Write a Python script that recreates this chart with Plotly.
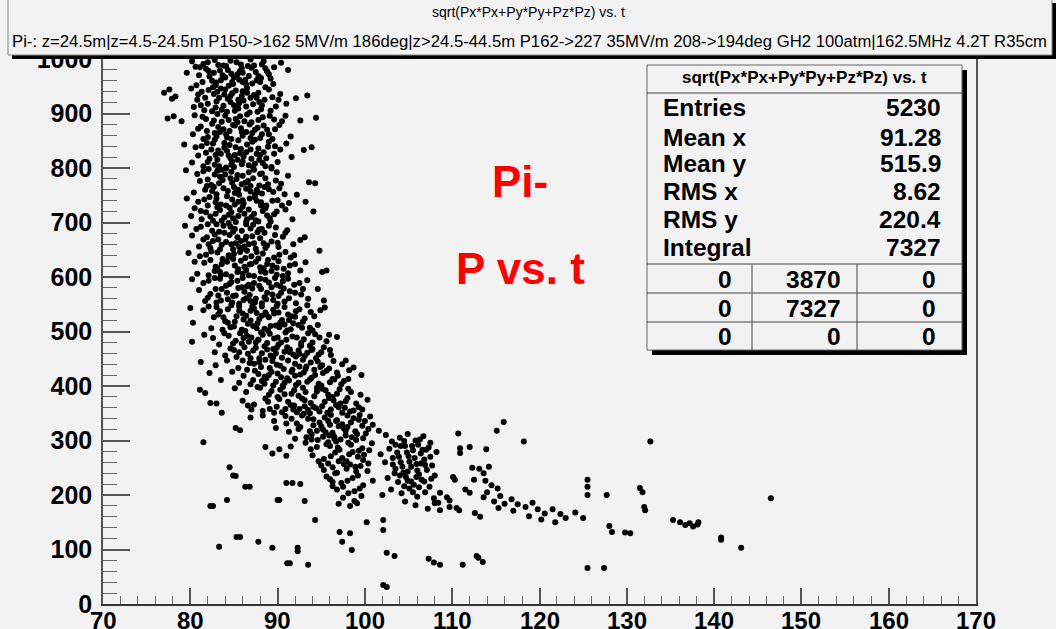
import plotly.graph_objects as go

# ---------------- data (t in ns, P in MeV/c) ----------------
band_950 = [(80.2,996),(81.5,991),(82.8,998),(84.1,987),(85.3,994),(86.9,999),(88.2,990),(89.6,985),
            (83.4,979),(85.9,983),(87.5,976),(81.0,970),(82.2,968),(84.7,973),(86.3,962),(88.8,977),
            (90.4,993),(83.0,957),(85.0,966),(87.1,955),(80.7,952),(82.5,960),(84.4,951),(86.0,975),
            (88.0,958),(91.2,980),(83.8,988),(85.6,962),(87.8,969),(81.8,982),(89.2,964),(84.9,954),
            (79.6,975),(86.6,987),
            (81.1,985),(82.0,994),(83.2,989),(84.6,997),(85.8,990),(87.0,984),(88.4,996),(89.0,972),
            (82.7,975),(84.0,966),(85.4,972),(86.7,969),(88.1,965),(81.4,958),(83.5,961),(84.8,958),
            (86.4,953),(87.6,961),(89.5,954),(82.9,952),(85.7,978),(87.3,988),(83.7,970),(86.0,958),
            (80.6,986),(84.3,980),(88.6,983),(82.1,978)]
band_900 = [(77.0,938),(77.6,944),(78.3,931),(77.9,927),(80.1,946),(81.3,940),(82.6,948),(83.9,935),
            (85.2,942),(86.5,947),(87.8,938),(89.0,944),(90.3,936),(92.1,928),(93.4,933),(80.8,925),
            (82.0,918),(83.3,929),(84.6,921),(85.9,932),(87.2,917),(88.5,925),(89.8,913),(81.6,906),
            (82.9,911),(84.2,903),(85.5,909),(86.8,902),(88.1,908),(84.0,944),(86.1,924),(83.1,940),
            (87.6,929),(80.4,912),(91.0,918),(85.0,915),
            (80.9,935),(82.1,943),(83.5,946),(84.8,937),(86.0,941),(87.3,934),(88.6,948),(81.7,929),
            (83.0,922),(84.3,927),(85.6,919),(86.9,929),(88.2,915),(89.4,930),(81.2,915),(82.5,904),
            (83.8,914),(85.1,905),(86.4,913),(87.7,903),(89.2,905),(84.6,932),(86.5,938),(82.7,936),
            (85.5,925),(87.9,921),(83.6,907),(90.1,925)]
band_850 = [(77.4,891),(78.1,895),(79.0,886),(94.4,892),(92.6,887),(80.5,897),(81.8,890),(83.1,899),
            (84.4,888),(85.7,895),(87.0,884),(88.3,893),(89.6,889),(90.9,896),(81.2,876),(82.5,881),
            (83.8,871),(85.1,878),(86.4,866),(87.7,874),(89.0,862),(80.3,862),(82.0,857),(83.4,866),
            (84.7,853),(86.0,859),(87.4,852),(88.8,870),(90.2,879),(85.4,884),(84.1,862),(86.8,880),
            (82.8,852),(91.5,858),(80.9,872),(88.0,855),
            (81.4,894),(82.7,887),(84.0,896),(85.2,890),(86.5,898),(87.8,888),(89.1,896),(81.9,868),
            (83.2,875),(84.5,868),(85.8,873),(87.1,864),(88.4,878),(89.7,871),(81.5,853),(82.8,864),
            (84.2,856),(85.5,851),(86.9,855),(88.2,862),(89.4,853),(83.6,885),(86.2,886),(84.9,879),
            (87.4,870),(83.0,858),(85.9,866),(90.5,886)]
band_800 = [(79.3,843),(80.6,838),(81.9,846),(83.2,832),(84.5,842),(85.8,835),(87.1,848),(88.4,829),
            (89.7,840),(91.0,845),(93.0,833),(93.9,838),(80.9,823),(82.2,817),(83.5,826),(84.8,812),
            (86.1,821),(87.4,808),(88.7,818),(90.0,811),(81.5,803),(82.8,806),(84.1,801),(85.4,815),
            (86.7,805),(88.0,824),(89.3,802),(83.9,837),(86.4,829),(82.4,834),(85.1,824),(87.9,815),
            (80.2,810),(91.6,820),(84.7,806),
            (81.3,840),(82.6,845),(83.9,846),(85.2,838),(86.5,843),(87.8,836),(89.0,848),(81.8,828),
            (83.1,815),(84.4,823),(85.7,827),(87.0,817),(88.3,809),(89.6,826),(82.0,811),(83.3,803),
            (84.6,818),(85.9,807),(87.2,801),(88.6,803),(90.3,834),(84.2,831),(86.9,834),(86.0,812),
            (88.9,839),(82.9,824),(85.0,802),(87.6,826)]
band_750 = [(79.5,796),(80.8,789),(82.1,798),(83.4,784),(84.7,793),(86.0,786),(87.3,797),(88.6,781),
            (89.9,792),(91.2,786),(94.3,772),(93.6,774),(92.2,751),(81.1,776),(82.4,769),(83.7,778),
            (85.0,765),(86.3,773),(87.6,760),(88.9,770),(90.2,763),(80.4,755),(81.7,760),(83.0,752),
            (84.3,758),(85.6,751),(86.9,757),(88.2,753),(89.5,756),(84.0,788),(86.6,776),(82.7,765),
            (85.3,780),(87.9,768),(90.8,752),(83.6,797),
            (81.5,794),(82.8,788),(84.1,799),(85.4,787),(86.7,792),(88.0,789),(89.3,799),(82.0,779),
            (83.3,772),(84.6,781),(85.9,770),(87.2,781),(88.5,765),(89.8,777),(82.5,758),(83.8,763),
            (85.1,754),(86.4,762),(87.7,756),(89.0,761),(84.8,773),(86.9,767),(83.1,795),(88.2,790),
            (85.5,760),(90.4,771),(81.9,767),(87.4,751)]
band_700 = [(79.6,744),(80.9,738),(82.2,747),(83.5,733),(84.8,742),(86.1,735),(87.4,746),(88.7,731),
            (90.0,741),(91.3,736),(94.1,720),(93.2,738),(80.5,726),(81.8,719),(83.1,728),(84.4,714),
            (85.7,723),(87.0,710),(88.3,721),(89.6,715),(90.9,724),(81.3,706),(82.6,703),(83.9,709),
            (85.2,701),(86.5,706),(87.8,702),(89.1,708),(84.1,731),(86.7,724),(82.9,716),(85.5,712),
            (88.1,737),(80.1,712),(91.7,706),(86.0,741),
            (81.6,742),(82.9,737),(84.2,748),(85.5,738),(86.8,744),(88.1,731),(89.4,740),(82.0,731),
            (83.4,723),(84.7,719),(86.0,729),(87.3,716),(88.6,726),(89.9,720),(82.3,711),(83.6,703),
            (84.9,708),(86.2,716),(87.5,704),(88.8,713),(85.1,733),(87.6,740),(83.0,744),(86.4,701),
            (89.2,702),(90.5,731),(84.5,727),(81.2,721)]
band_650 = [(79.4,694),(80.7,688),(82.0,697),(83.3,683),(84.6,692),(85.9,685),(87.2,696),(88.5,681),
            (89.8,691),(91.1,686),(92.6,668),(93.1,673),(80.2,676),(81.5,669),(82.8,678),(84.1,664),
            (85.4,673),(86.7,660),(88.0,671),(89.3,665),(90.6,674),(81.0,656),(82.3,653),(83.6,659),
            (84.9,651),(86.2,656),(87.5,652),(88.8,658),(90.1,655),(83.9,681),(86.4,674),(82.6,666),
            (85.2,662),(87.9,687),(84.4,699),(91.8,660),
            (81.2,692),(82.5,685),(83.8,694),(85.1,688),(86.4,697),(87.7,682),(89.0,694),(81.9,673),
            (83.2,669),(84.5,677),(85.8,666),(87.1,675),(88.4,662),(89.7,677),(82.1,660),(83.4,651),
            (84.7,660),(86.0,652),(87.3,662),(88.6,653),(90.0,663),(84.9,683),(86.9,689),(83.0,697),
            (85.6,655),(88.2,688),(90.9,681),(86.3,669)]
band_600 = [(79.8,644),(81.1,638),(82.4,647),(83.7,633),(85.0,642),(86.3,635),(87.6,646),(88.9,631),
            (90.2,641),(91.5,636),(94.8,648),(81.6,626),(82.9,619),(84.2,628),(85.5,614),(86.8,623),
            (88.1,610),(89.4,621),(90.7,615),(92.0,624),(80.8,606),(82.1,603),(83.4,609),(84.7,601),
            (86.0,606),(87.3,602),(88.6,608),(89.9,604),(91.2,607),(95.1,609),(95.6,612),(84.4,637),
            (87.0,624),(83.1,617),(85.8,630),(88.4,616),(92.6,612),(80.5,628),(86.5,648),
            (81.8,641),(83.1,645),(84.4,640),(85.7,646),(87.0,638),(88.3,643),(89.6,636),(90.9,646),
            (82.3,631),(83.6,624),(84.9,633),(86.2,619),(87.5,628),(88.8,624),(90.1,629),(91.4,621),
            (82.8,611),(84.1,605),(85.4,609),(86.7,603),(88.0,618),(89.3,611),(90.6,602),(85.1,621),
            (87.8,634),(89.9,617),(83.5,603),(86.4,613),(91.9,640),(93.2,627)]
band_550 = [(80.2,596),(81.5,589),(82.8,598),(84.1,584),(85.4,593),(86.7,586),(88.0,597),(89.3,581),
            (90.6,592),(91.9,586),(93.4,594),(81.0,576),(82.3,569),(83.6,578),(84.9,565),(86.2,573),
            (87.5,560),(88.8,571),(90.1,565),(91.4,574),(92.7,568),(94.6,578),(81.7,556),(83.0,553),
            (84.3,559),(85.6,551),(86.9,556),(88.2,552),(89.5,558),(90.8,555),(92.1,552),(95.3,557),
            (84.5,587),(87.1,579),(83.2,566),(85.9,581),(88.5,563),(90.3,583),(86.4,561),(89.0,590),
            (82.0,562),(93.5,560),
            (82.1,593),(83.4,597),(84.7,591),(86.0,598),(87.3,589),(88.6,595),(89.9,586),(91.2,597),
            (92.5,589),(82.9,578),(84.2,571),(85.5,580),(86.8,567),(88.1,578),(89.4,568),(90.7,579),
            (92.0,571),(83.5,557),(84.8,553),(86.1,558),(87.4,553),(88.7,559),(90.0,551),(91.3,561),
            (85.2,566),(87.9,584),(90.4,571),(92.9,578),(86.5,583),(89.7,598)]
band_500 = [(80.0,543),(81.5,539),(80.3,516),(82.1,546),(83.4,537),(84.7,548),(86.0,533),(87.3,542),
            (88.6,535),(89.9,547),(91.2,531),(92.5,541),(93.8,536),(95.4,544),(82.7,526),(84.0,519),
            (85.3,528),(86.6,514),(87.9,523),(89.2,510),(90.5,521),(91.8,515),(93.1,524),(94.6,512),
            (82.4,506),(83.7,503),(85.0,509),(86.3,501),(87.6,506),(88.9,502),(90.2,508),(91.5,504),
            (92.8,507),(85.6,538),(88.2,529),(84.3,516),(86.9,520),(89.6,533),(92.0,527),(87.1,546),
            (90.8,513),(83.2,531),(94.0,502),
            (83.0,545),(84.3,541),(85.6,546),(86.9,538),(88.2,546),(89.5,540),(90.8,545),(92.1,537),
            (93.4,548),(83.8,526),(85.1,518),(86.4,529),(87.7,515),(89.0,526),(90.3,516),(91.6,528),
            (92.9,518),(94.2,528),(84.6,508),(85.9,503),(87.2,510),(88.5,505),(89.8,511),(91.1,502),
            (92.4,512),(93.7,507),(86.1,522),(88.7,531),(91.3,521),(87.6,534),(90.1,535),(94.9,539)]
band_450 = [(80.2,481),(81.6,494),(82.6,488),(83.9,497),(85.2,483),(86.5,492),(87.8,485),(89.1,496),
            (90.4,480),(91.7,491),(93.0,486),(94.3,495),(95.6,482),(96.8,490),(83.3,476),(84.6,469),
            (85.9,478),(87.2,465),(88.5,473),(89.8,460),(91.1,471),(92.4,465),(93.7,474),(95.0,462),
            (84.0,456),(85.3,453),(86.6,459),(87.9,451),(89.2,456),(90.5,452),(91.8,458),(93.1,455),
            (94.4,451),(96.1,457),(86.1,488),(88.8,479),(85.0,466),(87.5,470),(90.0,489),(92.7,479),
            (89.5,468),(91.4,462),(94.0,468),(82.8,462),(88.1,498),
            (84.4,492),(85.7,497),(87.0,489),(88.3,494),(89.6,487),(90.9,498),(92.2,489),(93.5,497),
            (94.8,489),(84.9,478),(86.2,471),(87.5,480),(88.8,467),(90.1,476),(91.4,467),(92.7,474),
            (94.0,480),(95.3,471),(85.6,462),(86.9,451),(88.2,460),(89.5,453),(90.8,463),(92.1,454),
            (93.4,461),(94.7,458),(96.0,466),(87.8,485),(91.0,485),(93.9,466),(89.9,470),(86.7,481),
            (95.9,494),(92.5,459)]
band_400 = [(81.2,444),(82.9,438),(84.2,447),(85.5,433),(86.8,442),(88.1,435),(89.4,446),(90.7,431),
            (92.0,441),(93.3,436),(94.6,445),(95.9,432),(97.4,440),(98.7,434),(84.8,426),(86.1,419),
            (87.4,428),(88.7,414),(90.0,423),(91.3,410),(92.6,421),(93.9,415),(95.2,424),(96.5,412),
            (99.6,420),(85.6,406),(86.9,403),(88.2,409),(89.5,401),(90.8,406),(92.1,402),(93.4,408),
            (94.7,404),(96.0,407),(97.3,403),(83.5,411),(87.9,444),(90.3,437),(89.0,420),(91.6,426),
            (94.2,430),(92.9,448),(96.8,425),(88.5,404),(98.1,413),(82.2,424),
            (86.0,447),(87.3,441),(88.6,448),(89.9,439),(91.2,447),(92.5,436),(93.8,443),(95.1,438),
            (96.4,446),(86.5,430),(87.8,422),(89.1,433),(90.4,416),(91.7,430),(93.0,425),(94.3,420),
            (95.6,428),(96.9,419),(98.2,429),(87.2,411),(88.5,417),(89.8,408),(91.1,414),(92.4,406),
            (93.7,412),(95.0,401),(96.3,413),(97.6,409),(89.3,426),(92.0,419),(94.9,435),(90.6,401),
            (93.2,431),(97.8,447)]
band_350 = [(81.1,393),(81.7,387),(82.3,369),(83.0,368),(83.6,351),(85.1,396),(86.4,389),(87.7,398),
            (89.0,384),(90.3,393),(91.6,386),(92.9,397),(94.2,381),(95.5,392),(96.8,386),(98.1,395),
            (99.5,384),(86.0,373),(87.3,366),(88.6,377),(89.9,362),(91.2,371),(92.5,358),(93.8,369),
            (95.1,363),(96.4,374),(97.7,360),(99.0,368),(100.3,375),(88.3,354),(89.6,351),(90.9,358),
            (92.2,352),(93.5,356),(94.8,353),(96.1,357),(97.4,351),(98.7,355),(90.0,380),(93.1,374),
            (95.9,378),(94.5,397),(97.2,368),(91.9,364),(87.0,357),
            (88.0,397),(89.3,391),(90.6,398),(91.9,392),(93.2,389),(94.5,390),(95.8,384),(97.1,394),
            (98.4,389),(88.9,371),(90.2,376),(91.5,365),(92.8,377),(94.1,362),(95.4,371),(96.7,365),
            (98.0,378),(99.3,361),(89.1,358),(90.5,352),(91.8,357),(93.1,363),(94.4,359),(95.7,351),
            (97.0,361),(98.3,353),(99.7,357),(92.4,382),(95.1,395),(96.3,380),(97.8,372),(93.7,350),
            (90.8,385),(86.6,364)]
band_300 = [(85.2,323),(85.7,319),(86.9,342),(88.3,346),(89.6,336),(90.9,345),(92.2,331),(93.5,340),
            (94.8,333),(96.1,347),(97.4,330),(98.7,341),(100.0,336),(100.9,329),(89.8,323),(91.3,316),
            (92.6,325),(93.9,311),(95.2,320),(96.5,307),(97.8,318),(99.1,312),(100.4,321),(92.0,303),
            (93.3,306),(94.6,301),(95.9,309),(97.2,302),(98.5,306),(99.8,304),(94.1,328),(96.8,337),
            (95.5,315),(98.0,325),(99.4,347),(91.6,340),(93.0,349),
            (92.8,346),(94.1,339),(95.4,342),(96.7,336),(98.0,346),(99.3,338),(92.4,321),(93.7,317),
            (95.0,326),(96.3,314),(97.6,322),(98.9,317),(100.1,313),(93.9,302),(95.2,307),(96.5,303),
            (97.8,309),(99.0,301),(94.5,318),(97.0,326),(98.4,333),(96.0,329),(99.7,327),(91.0,331),
            (95.8,336),(100.6,344)]
band_250 = [(81.5,297),(84.5,251),(88.6,288),(89.4,276),(90.2,284),(91.0,272),(91.5,289),(93.2,296),
            (94.5,288),(95.8,297),(97.1,283),(98.4,292),(99.7,286),(100.8,295),(94.0,273),(95.3,266),
            (96.6,278),(97.9,262),(99.2,270),(100.4,258),(95.0,254),(96.3,251),(97.6,257),(98.9,252),
            (96.0,290),(98.2,275),(99.8,264),(94.7,262),
            (95.6,293),(96.9,287),(98.1,296),(99.3,281),(96.1,271),(97.4,268),(98.6,279),(99.9,274),
            (95.8,258),(97.0,262),(98.3,256),(99.5,253),(96.7,298),(100.5,282),(93.8,284)]
band_180 = [(85.2,235),(95.3,246),(96.6,240),(97.9,248),(99.2,236),(100.3,244),(96.0,229),(97.3,222),
            (98.6,231),(99.8,218),(96.8,210),(98.1,203),(99.4,212),(97.5,195),(98.8,189),(99.6,198),
            (97.0,184),(98.3,180),(99.1,185),(96.3,216),(95.6,234),(100.9,226),
            (96.8,241),(98.0,226),(99.0,243),(97.5,215),(98.8,207),(96.3,224)]
cluster_105 = [(101.6,318),(102.4,310),(103.1,298),(104.0,305),(104.9,312),(105.8,300),(106.7,308),
               (107.5,296),(102.8,285),(103.7,278),(104.6,290),(105.5,282),(106.4,276),(107.3,287),
               (108.2,279),(103.2,268),(104.1,260),(105.0,271),(105.9,257),(106.8,265),(107.7,254),
               (103.5,248),(104.4,241),(105.3,252),(106.2,238),(107.1,246),(108.0,236),(102.6,231),
               (103.8,224),(104.7,233),(105.6,219),(106.5,228),(107.4,215),(103.0,210),(104.2,203),
               (105.1,212),(106.0,197),(106.9,205),(107.9,194),(104.6,188),(105.8,181),(107.2,175),
               (108.4,186),(102.3,260),(106.1,292),(104.9,226),(102.0,200),(108.6,204),(109.4,196),
               (109.7,178),(101.8,275),
               (103.5,292),(104.5,299),(105.4,290),(106.3,302),(107.0,283),(103.9,270),(104.8,278),
               (105.7,268),(106.6,283),(107.5,270),(103.2,256),(104.3,252),(105.1,261),(106.0,245),
               (106.9,255),(104.0,236),(104.9,243),(105.9,233),(106.8,225),(103.4,240),(105.3,225),
               (106.2,214),(104.5,216),(107.6,230),(105.5,205),(104.1,290),(106.4,258)]
tail_points = [(110.7,313),(110.9,286),(110.9,277),(112.0,288),(113.9,284),(112.3,250),(113.1,248),
               (113.6,240),(114.2,252),(112.5,228),(110.1,233),(110.3,228),(113.8,226),(114.5,218),
               (115.2,212),(114.0,205),(115.5,198),(113.6,196),(114.8,188),(116.0,184),(115.3,176),
               (116.8,192),(117.5,183),(118.4,178),(117.0,171),(119.2,186),(119.8,174),(120.6,166),
               (118.8,161),(121.5,174),(122.4,165),(123.0,158),(124.1,168),(120.2,155),(121.8,150),
               (125.0,158),(125.5,228),(125.5,215),(125.5,200),(127.7,200),(128.0,143),(128.3,132),
               (129.8,131),(130.4,130),(131.5,213),(131.8,205),(132.1,172),(132.0,178),(135.3,154),
               (136.1,150),(136.7,145),(137.2,148),(137.6,142),(138.1,146),(138.2,150),(140.8,122),
               (140.8,118),(143.1,103),(146.5,194),(132.7,298),(115.9,334),(115.1,318),(118.2,298),
               (110.5,176),(110.8,172),(108.0,185),(108.6,172),(109.7,190),(112.6,167),(113.2,160),
               (111.5,210),(112.0,204)]
stray_points = [(87.8,114),(89.4,103),(91.1,75),(91.4,75),(92.3,103),(92.3,97),(93.5,72),(94.3,154),
                (97.1,132),(98.3,130),(97.4,114),(98.5,99),(100.2,150),(102.1,154),(102.1,136),
                (102.5,94),(103.4,88),(102.1,35),(102.5,31),(107.3,83),(107.9,76),(108.6,72),
                (111.2,72),(112.8,88),(113.5,77),(113.0,85),(125.5,66),(127.4,66),(91.0,222),
                (91.7,222),(92.6,220),(90.2,191),(93.1,189),(86.8,215),(86.3,215),(82.3,180),
                (82.6,180),(84.2,191),(85.3,123),(85.7,123),(83.3,105),(90.0,191),(84.9,236)]

x_ticks = [70, 80, 90, 100, 110, 120, 130, 140, 150, 160, 170]
y_ticks = [0, 100, 200, 300, 400, 500, 600, 700, 800, 900, 1000]

hist_title = "sqrt(Px*Px+Py*Py+Pz*Pz) vs. t"
run_title = ("Pi-: z=24.5m|z=4.5-24.5m P150->162 5MV/m 186deg|z>24.5-44.5m P162->227 35MV/m "
             "208->194deg GH2 100atm|162.5MHz 4.2T R35cm")
stat_labels = ["Entries", "Mean x", "Mean y", "RMS x", "RMS y", "Integral"]
stat_values = ["5230", "91.28", "515.9", "8.62", "220.4", "7327"]
overflow_table = [["0", "3870", "0"], ["0", "7327", "0"], ["0", "0", "0"]]

all_sets = [band_950, band_900, band_850, band_800, band_750, band_700, band_650, band_600,
            band_550, band_500, band_450, band_400, band_350, band_300, band_250, band_180,
            cluster_105, tail_points, stray_points]
t_vals = [p[0] for s in all_sets for p in s]
p_vals = [p[1] for s in all_sets for p in s]

# ---------------- layout geometry (pixels) ----------------
W, H = 1056, 629
PL, PR, PT, PB = 103, 976, 59, 604
BG = "#f2f2f2"
FONT = "Liberation Sans, Arial, Helvetica, sans-serif"


def fx(px):
    return (px - PL) / (PR - PL)


def fy(py):
    return (PB - py) / (PB - PT)


fig = go.Figure()
fig.add_trace(go.Scatter(x=t_vals, y=p_vals, mode="markers",
                         marker=dict(color="black", size=6, line=dict(width=0)),
                         hoverinfo="skip", showlegend=False))

shapes = []
ann = []


def rect(x0, y0, x1, y1, fill, line_color=None, lw=0):
    shapes.append(dict(type="rect", xref="paper", yref="paper", layer="above",
                       x0=fx(x0), x1=fx(x1), y0=fy(y1), y1=fy(y0), fillcolor=fill,
                       line=dict(color=line_color or fill, width=lw)))


def hline(x0, x1, y, color="#444", lw=1):
    shapes.append(dict(type="line", xref="paper", yref="paper", layer="above",
                       x0=fx(x0), x1=fx(x1), y0=fy(y), y1=fy(y), line=dict(color=color, width=lw)))


def vline(x, y0, y1, color="#444", lw=1):
    shapes.append(dict(type="line", xref="paper", yref="paper", layer="above",
                       x0=fx(x), x1=fx(x), y0=fy(y0), y1=fy(y1), line=dict(color=color, width=lw)))


def text(px, py, s, size, anchor="center", bold=False, color="black"):
    ann.append(dict(xref="paper", yref="paper", x=fx(px), y=fy(py), text=s, showarrow=False,
                    xanchor=anchor, yanchor="middle",
                    font=dict(family=FONT, size=size, color=color,
                              weight="bold" if bold else "normal")))


# x tick labels, placed on the x scale just under the axis (as in the ROOT canvas)
for v in x_ticks:
    ann.append(dict(xref="x", yref="paper", x=v, y=fy(620), text=str(v), showarrow=False,
                    xanchor="center", yanchor="middle",
                    font=dict(family=FONT, size=24, color="black", weight="bold")))

# title pave
rect(12, 3, 1056, 59, "black")
rect(8, -2, 1052, 55, BG, "#888", 1)
text(528, 12, hist_title, 14)
text(10, 41, run_title, 16.7, anchor="left")

# stats box
rect(652, 70, 967, 355, "black")
rect(647, 65, 962, 350, BG, "#666", 1)
hline(647, 962, 93)
text(804, 78, hist_title, 17, bold=True)
stat_rows_y = [107, 137, 164, 192, 220, 247]
for lab, val, yy in zip(stat_labels, stat_values, stat_rows_y):
    text(661, yy, lab, 24.5, anchor="left", bold=True)
    text(943, yy, val, 24.5, anchor="right", bold=True)
for yy in (264, 293, 322):
    hline(647, 962, yy)
vline(752, 264, 350)
vline(857, 264, 350)
table_rows_y = [279, 308, 337]
col_right = [734, 843, 938]
for row, yy in zip(overflow_table, table_rows_y):
    for v, xr in zip(row, col_right):
        text(xr, yy, v, 24.5, anchor="right", bold=True)

# red labels
text(520, 182, "Pi-", 44, bold=True, color="#ff0000")
text(520, 268, "P vs. t", 44, bold=True, color="#ff0000")

fig.update_layout(
    width=W, height=H, autosize=False,
    margin=dict(l=PL, r=W - PR, t=PT, b=H - PB, pad=0, autoexpand=False),
    paper_bgcolor=BG, plot_bgcolor=BG,
    shapes=shapes, annotations=ann, showlegend=False,
    font=dict(family=FONT, color="black"),
)
fig.update_xaxes(range=[70, 170], tickmode="array", tickvals=x_ticks,
                 showticklabels=False, automargin=False,
                 ticks="inside", ticklen=16, tickwidth=1.5, tickcolor="#555",
                 minor=dict(dtick=2, tick0=70, ticks="inside", ticklen=8, tickwidth=1, tickcolor="#666"),
                 showgrid=False, zeroline=False, showline=True, linecolor="#333", linewidth=2,
                 mirror=True)
fig.update_yaxes(range=[0, 1000], tickmode="array", tickvals=y_ticks,
                 ticktext=[str(v) for v in y_ticks], automargin=False,
                 ticks="inside", ticklen=27, tickwidth=1.5, tickcolor="#555",
                 minor=dict(dtick=20, tick0=0, ticks="inside", ticklen=14, tickwidth=1, tickcolor="#666"),
                 showgrid=False, zeroline=False, showline=True, linecolor="#555", linewidth=1.5,
                 mirror=True, tickfont=dict(family=FONT, size=25, weight="bold"), ticklabelstandoff=4)

fig.write_html("out.html")
